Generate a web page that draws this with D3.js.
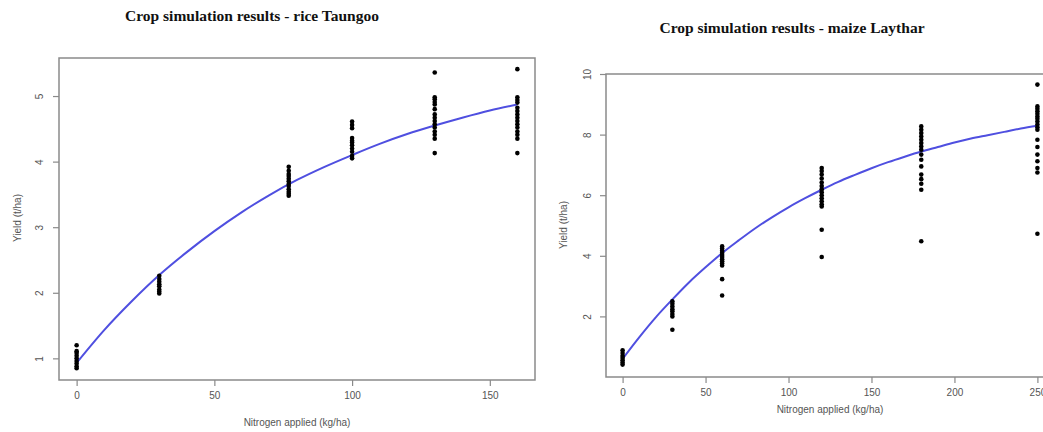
<!DOCTYPE html>
<html>
<head>
<meta charset="utf-8">
<script src="https://cdn.jsdelivr.net/npm/d3@7"></script>
<style>
	body { margin: 0; background: #fff; }
	svg { display: block; }
</style>
</head>
<body>
<div id="chart"></div>
<script>
// rice Taungoo - simulated yields per nitrogen level (t/ha)
const riceN = [0, 30, 77, 100, 130, 160];
const riceYield = [
	[1.20, 1.11, 1.08, 1.04, 1.00, 0.96, 0.92, 0.88, 0.85],
	[2.26, 2.21, 2.17, 2.13, 2.10, 2.05, 2.02, 1.99],
	[3.92, 3.86, 3.81, 3.78, 3.74, 3.70, 3.66, 3.63, 3.58, 3.54, 3.51, 3.48],
	[4.61, 4.56, 4.51, 4.36, 4.32, 4.29, 4.25, 4.20, 4.15, 4.09, 4.05],
	[5.36, 4.98, 4.95, 4.91, 4.87, 4.80, 4.72, 4.67, 4.62, 4.57, 4.52, 4.46, 4.41, 4.35, 4.13],
	[5.41, 4.98, 4.94, 4.90, 4.82, 4.77, 4.72, 4.67, 4.62, 4.57, 4.52, 4.46, 4.41, 4.35, 4.13]
];
// fitted response curve
const riceCurveN = [0, 10, 20, 30, 40, 50, 60, 70, 80, 90, 100, 110, 120, 130, 140, 150, 160];
const riceCurveY = [0.93, 1.43, 1.87, 2.27, 2.62, 2.94, 3.23, 3.49, 3.72, 3.92, 4.10, 4.27, 4.42, 4.55, 4.67, 4.78, 4.87];
const riceXTicks = [0, 50, 100, 150];
const riceYTicks = [1, 2, 3, 4, 5];

// maize Laythar
const maizeN = [0, 30, 60, 120, 180, 250];
const maizeYield = [
	[0.88, 0.79, 0.70, 0.63, 0.55, 0.48, 0.41],
	[2.50, 2.42, 2.33, 2.24, 2.17, 2.08, 2.00, 1.56],
	[4.31, 4.24, 4.17, 4.10, 4.03, 3.96, 3.89, 3.82, 3.75, 3.68, 3.23, 2.69],
	[6.90, 6.80, 6.68, 6.55, 6.42, 6.30, 6.20, 6.10, 6.00, 5.90, 5.80, 5.70, 5.63, 4.86, 3.96],
	[8.27, 8.16, 8.05, 7.94, 7.83, 7.72, 7.61, 7.50, 7.34, 7.17, 6.95, 6.68, 6.53, 6.38, 6.18, 4.48],
	[9.65, 8.93, 8.85, 8.77, 8.69, 8.60, 8.52, 8.43, 8.33, 8.24, 8.16, 7.83, 7.59, 7.34, 7.12, 6.90, 6.75, 4.73]
];
const maizeCurveN = [0, 10, 20, 30, 40, 50, 60, 70, 80, 90, 100, 110, 120, 130, 140, 150, 160, 170, 180, 190, 200, 210, 220, 230, 240, 250];
const maizeCurveY = [0.60, 1.31, 1.97, 2.56, 3.12, 3.62, 4.09, 4.51, 4.91, 5.27, 5.60, 5.90, 6.18, 6.44, 6.67, 6.89, 7.09, 7.27, 7.44, 7.59, 7.74, 7.87, 7.98, 8.09, 8.20, 8.29];
const maizeXTicks = [0, 50, 100, 150, 200, 250];
const maizeYTicks = [2, 4, 6, 8, 10];

const width = 1043,
		height = 432,
		axisGrey = '#8a8a8a',
		textGrey = '#555',
		lineBlue = '#4f4fe0';

let svg = d3.select('#chart').append('svg')
		.attr('width', width)
		.attr('height', height);

function panel(opt) {
	let x = d3.scaleLinear().domain(opt.xDomain).range([opt.box.left, opt.box.right]);
	let y = d3.scaleLinear().domain(opt.yDomain).range([opt.box.bottom, opt.box.top]);
	let g = svg.append('g');

	// title
	g.append('text')
			.attr('x', opt.titleX)
			.attr('y', opt.titleY)
			.attr('text-anchor', 'middle')
			.style('font-family', '"Liberation Serif", "Times New Roman", serif')
			.style('font-weight', 'bold')
			.style('font-size', '15.5px')
			.attr('fill', '#111')
			.text(opt.title);

	// plot box
	g.append('rect')
			.attr('x', opt.box.left)
			.attr('y', opt.box.top)
			.attr('width', opt.box.right - opt.box.left)
			.attr('height', opt.box.bottom - opt.box.top)
			.attr('fill', 'none')
			.attr('stroke', axisGrey)
			.attr('stroke-width', 1.5);

	// axes, R style: outward ticks, labels along the axis
	let xAxis = g.append('g')
			.attr('transform', `translate(0,${opt.box.bottom})`)
			.call(d3.axisBottom(x).tickValues(opt.xTicks).tickFormat(d3.format('d')).tickSize(6).tickPadding(6));
	let yAxis = g.append('g')
			.attr('transform', `translate(${opt.box.left},0)`)
			.call(d3.axisLeft(y).tickValues(opt.yTicks).tickFormat(d3.format('d')).tickSize(6));

	[xAxis, yAxis].forEach(a => {
		a.select('.domain').remove();
		a.selectAll('line').attr('stroke', axisGrey).attr('stroke-width', 1.2);
		a.selectAll('text')
				.attr('fill', textGrey)
				.style('font-family', '"Liberation Sans", Arial, sans-serif')
				.style('font-size', '10px');
	});

	yAxis.selectAll('.tick text')
			.attr('text-anchor', 'middle')
			.attr('x', 0)
			.attr('dy', 0)
			.attr('transform', `translate(${-opt.yLabelGap},0) rotate(-90)`);

	g.append('text')
			.attr('x', (opt.box.left + opt.box.right) / 2 + opt.xTitleShift)
			.attr('y', opt.xTitleY)
			.attr('text-anchor', 'middle')
			.attr('fill', textGrey)
			.style('font-family', '"Liberation Sans", Arial, sans-serif')
			.style('font-size', '10px')
			.text('Nitrogen applied (kg/ha)');

	g.append('text')
			.attr('transform', `translate(${opt.yTitleX},${opt.yTitleY}) rotate(-90)`)
			.attr('text-anchor', 'middle')
			.attr('fill', textGrey)
			.style('font-family', '"Liberation Sans", Arial, sans-serif')
			.style('font-size', '10px')
			.text('Yield (t/ha)');

	// fitted curve
	let line = d3.line()
			.x((d, i) => x(opt.curveN[i]))
			.y(d => y(d))
			.curve(d3.curveMonotoneX);

	g.append('path')
			.attr('d', line(opt.curveY))
			.attr('fill', 'none')
			.attr('stroke', lineBlue)
			.attr('stroke-width', 2);

	// simulated points
	let pts = [];
	opt.n.forEach((n, i) => opt.yields[i].forEach(v => pts.push({n: n, v: v})));

	g.append('g').selectAll('circle')
			.data(pts)
			.enter()
			.append('circle')
			.attr('cx', d => x(d.n))
			.attr('cy', d => y(d.v))
			.attr('r', 2.3)
			.attr('fill', '#000');
}

panel({
	title: 'Crop simulation results - rice Taungoo',
	titleX: 252, titleY: 21,
	box: {left: 59, right: 535, top: 58, bottom: 380},
	xDomain: [-6.4, 166.4],
	yDomain: [0.67, 5.58],
	xTicks: riceXTicks,
	yTicks: riceYTicks,
	yLabelGap: 16,
	xTitleY: 426, xTitleShift: 0,
	yTitleX: 21, yTitleY: 218,
	n: riceN, yields: riceYield,
	curveN: riceCurveN, curveY: riceCurveY
});

panel({
	title: 'Crop simulation results - maize Laythar',
	titleX: 792, titleY: 33,
	box: {left: 606, right: 1054, top: 74, bottom: 377},
	xDomain: [-10, 260],
	yDomain: [0, 10],
	xTicks: maizeXTicks,
	yTicks: maizeYTicks,
	yLabelGap: 15,
	xTitleY: 413, xTitleShift: 0,
	yTitleX: 567, yTitleY: 225,
	n: maizeN, yields: maizeYield,
	curveN: maizeCurveN, curveY: maizeCurveY
});
</script>
</body>
</html>
